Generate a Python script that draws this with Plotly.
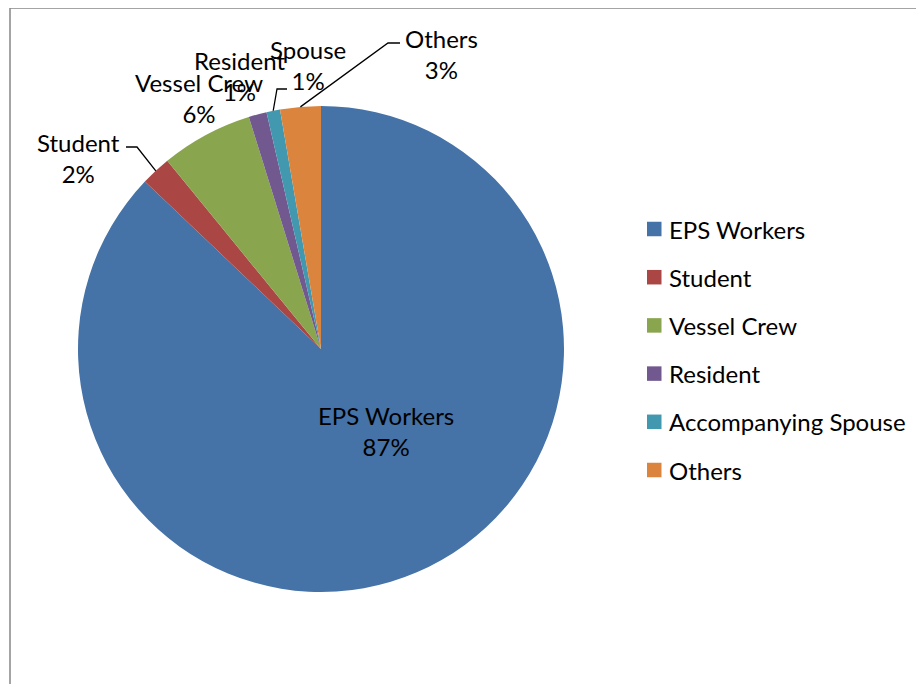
import math
import plotly.graph_objects as go

# ---- data ----
categories = ["EPS Workers", "Student", "Vessel Crew", "Resident", "Accompanying Spouse", "Others"]
short_labels = ["EPS Workers", "Student", "Vessel Crew", "Resident", "Spouse", "Others"]
values = [87.1, 2.0, 6.1, 1.2, 0.9, 2.7]
colors = ["#4572A7", "#AA4643", "#89A54E", "#71588F", "#4198AF", "#DB843D"]

W, H = 924, 684
OFF = 8  # page body margin offset
FONT = "Lato"
FS = 24

# pie placement (window pixels)
cx, cy, r = 321, 349, 243

def px(x):
    return (x - OFF) / W

def py(y):
    return 1 - (y - OFF) / H

fig = go.Figure()
fig.add_trace(go.Pie(
    labels=categories,
    values=values,
    sort=False,
    direction="clockwise",
    rotation=0,
    marker=dict(colors=colors, line=dict(width=0)),
    textinfo="none",
    hoverinfo="label+percent",
    showlegend=False,
    domain=dict(x=[px(cx - r), px(cx + r)], y=[py(cy + r), py(cy - r)]),
))

total = sum(values)
pcts = [f"{round(v / total * 100)}%" for v in values]

# label positions (pixel centres of the text block) – layout only
label_pos = [(386, 431), (78, 158), (199, 98), (239, 76), (308, 65), (441, 54)]
annotations = []
for name, pct, (lx, ly) in zip(short_labels, pcts, label_pos):
    annotations.append(dict(
        x=px(lx), y=py(ly), xref="paper", yref="paper",
        text=f"{name}<br>{pct}", showarrow=False,
        font=dict(family=FONT, size=FS, color="#000"),
        xanchor="center", yanchor="middle", align="center",
    ))

# leader lines: elbow positions are layout, endpoints come from slice mid-angles
elbows = {1: [(126, 147), (137, 147)], 4: [(287, 89), (277, 89)], 5: [(400, 43), (388, 43)]}
shapes = []
cum = 0.0
mids = []
for v in values:
    mids.append((cum + v / 2) / total * 2 * math.pi)
    cum += v
for idx, pts in elbows.items():
    th = mids[idx]
    ex = cx + r * math.sin(th)
    ey = cy - r * math.cos(th)
    allp = pts + [(ex, ey)]
    path = "M " + " L ".join(f"{px(a):.5f},{py(b):.5f}" for a, b in allp)
    shapes.append(dict(type="path", path=path, xref="paper", yref="paper",
                       line=dict(color="#000", width=1.3)))

# legend (drawn manually to reproduce spacing)
leg_x0, leg_y0, leg_dy, sq = 647, 229, 48.2, 14.5
for i, (name, col) in enumerate(zip(categories, colors)):
    yc = leg_y0 + i * leg_dy
    shapes.append(dict(type="rect", xref="paper", yref="paper",
                       x0=px(leg_x0), x1=px(leg_x0 + sq),
                       y0=py(yc + sq / 2), y1=py(yc - sq / 2),
                       fillcolor=col, line=dict(width=0)))
    annotations.append(dict(
        x=px(leg_x0 + sq + 5), y=py(yc), xref="paper", yref="paper",
        text=name, showarrow=False, xanchor="left", yanchor="middle",
        font=dict(family=FONT, size=FS, color="#000"),
    ))

# chart frame
shapes.append(dict(type="rect", xref="paper", yref="paper",
                   x0=px(10), y0=py(720), x1=px(960), y1=py(8),
                   line=dict(color="#878787", width=1.5), fillcolor="rgba(0,0,0,0)"))

fig.update_layout(
    width=W, height=H,
    margin=dict(l=0, r=0, t=0, b=0),
    paper_bgcolor="white", plot_bgcolor="white",
    font=dict(family=FONT, size=FS, color="#000"),
    annotations=annotations,
    shapes=shapes,
)

fig.write_html("out.html")
